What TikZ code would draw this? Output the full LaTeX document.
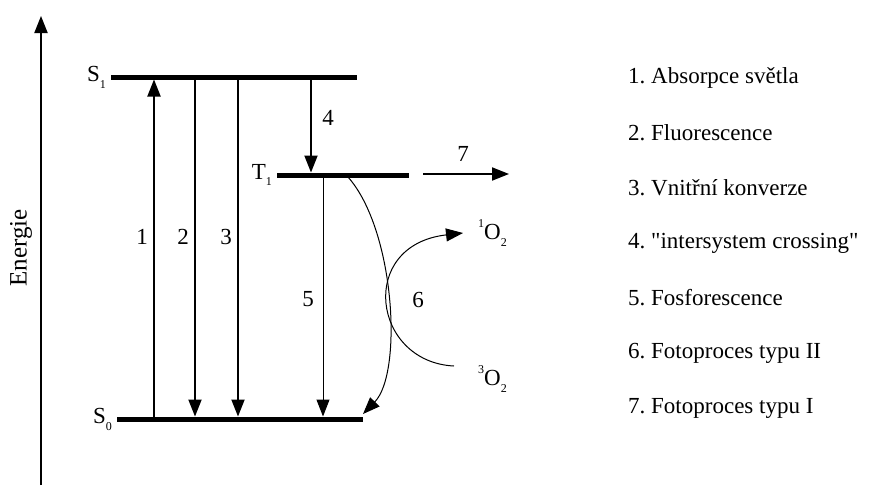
\documentclass[tikz,border=0pt]{standalone}
\usepackage{fontspec}
\setmainfont{Liberation Serif}[Ligatures=TeXOff]
\usetikzlibrary{arrows.meta}
\newcommand{\lbsub}[1]{\raisebox{-0.3em}{\fontsize{12}{12}\selectfont #1}}
\newcommand{\lbsup}[1]{\raisebox{0.5em}{\fontsize{12}{12}\selectfont #1}}
\frenchspacing
\begin{document}
\begin{tikzpicture}[x=1pt,y=-1pt,
  txt/.style={font=\fontsize{23}{27}\selectfont, inner sep=0pt},
  level/.style={line width=5pt},
  thickarr/.style={line width=2pt,-{Triangle[length=17pt,width=13pt]}},
  thinarr/.style={line width=1pt,-{Triangle[length=17pt,width=13pt]}}]
\useasboundingbox (0,0) rectangle (881,485);
% energy axis
\coordinate (axB) at (41,485);
\coordinate (axT) at (41,16);
\draw[line width=2pt,-{Triangle[length=17pt,width=13pt]}] (axB) -- (axT);
\node[txt, font=\fontsize{25}{27}\selectfont, rotate=90] (en) at (21,248) {Energie};
% levels
\coordinate (s1L) at (111,77); \coordinate (s1R) at (357,77);
\coordinate (t1L) at (277,175); \coordinate (t1R) at (409,175);
\coordinate (s0L) at (117,419); \coordinate (s0R) at (363,419);
\draw[level] (s1L) -- (s1R);
\draw[level] (t1L) -- (t1R);
\draw[level] (s0L) -- (s0R);
\node[txt, anchor=east] (S1) at (106,77) {S\lbsub{1}};
\node[txt, anchor=east] (T1) at (272,175) {T\lbsub{1}};
\node[txt, anchor=east] (S0) at (112,419) {S\lbsub{0}};
% vertical transitions
\coordinate (a1b) at (154,417); \coordinate (a1t) at (154,79.5);
\coordinate (a2t) at (195,79); \coordinate (a2b) at (195,416.5);
\coordinate (a3t) at (238,79); \coordinate (a3b) at (238,416.5);
\coordinate (a4t) at (311,79); \coordinate (a4b) at (311,172.5);
\coordinate (a5t) at (323,177); \coordinate (a5b) at (323,416.5);
\draw[thickarr] (a1b) -- (a1t);
\draw[thickarr] (a2t) -- (a2b);
\draw[thickarr] (a3t) -- (a3b);
\draw[thickarr] (a4t) -- (a4b);
\draw[thinarr] (a5t) -- (a5b);
\node[txt] (n1) at (142,237) {1};
\node[txt] (n2) at (183,237) {2};
\node[txt] (n3) at (226,237) {3};
\node[txt] (n4) at (328,118) {4};
\node[txt] (n5) at (308,299) {5};
% process 7
\coordinate (a7s) at (423,174); \coordinate (a7e) at (509,174);
\draw[thickarr] (a7s) -- (a7e);
\node[txt] (n7) at (463,154) {7};
% curve T1 -> S0
\coordinate (ctS) at (348,177); \coordinate (ctE) at (363,414);
\draw[thinarr] (ctS) .. controls (395,230) and (403,373) .. (ctE);
% process 6
\node[txt, anchor=west] (o1) at (478,233) {\lbsup{1}O\lbsub{2}};
\node[txt, anchor=west] (o3) at (478,379) {\lbsup{3}O\lbsub{2}};
\coordinate (c6S) at (454,366); \coordinate (c6E) at (463,233);
\draw[thinarr] (c6S) .. controls (372,362) and (357,245) .. (c6E);
\node[txt] (n6) at (418,300) {6};
% legend
\node[txt, anchor=west] (l1) at (628,78) {1. Absorpce světla};
\node[txt, anchor=west] (l2) at (628,133) {2. Fluorescence};
\node[txt, anchor=west] (l3) at (628,188) {3. Vnitřní konverze};
\node[txt, anchor=west] (l4) at (628,243) {4. "intersystem crossing"};
\node[txt, anchor=west] (l5) at (628,298) {5. Fosforescence};
\node[txt, anchor=west] (l6) at (628,353) {6. Fotoproces typu II};
\node[txt, anchor=west] (l7) at (628,408) {7. Fotoproces typu I};
\end{tikzpicture}
\end{document}
